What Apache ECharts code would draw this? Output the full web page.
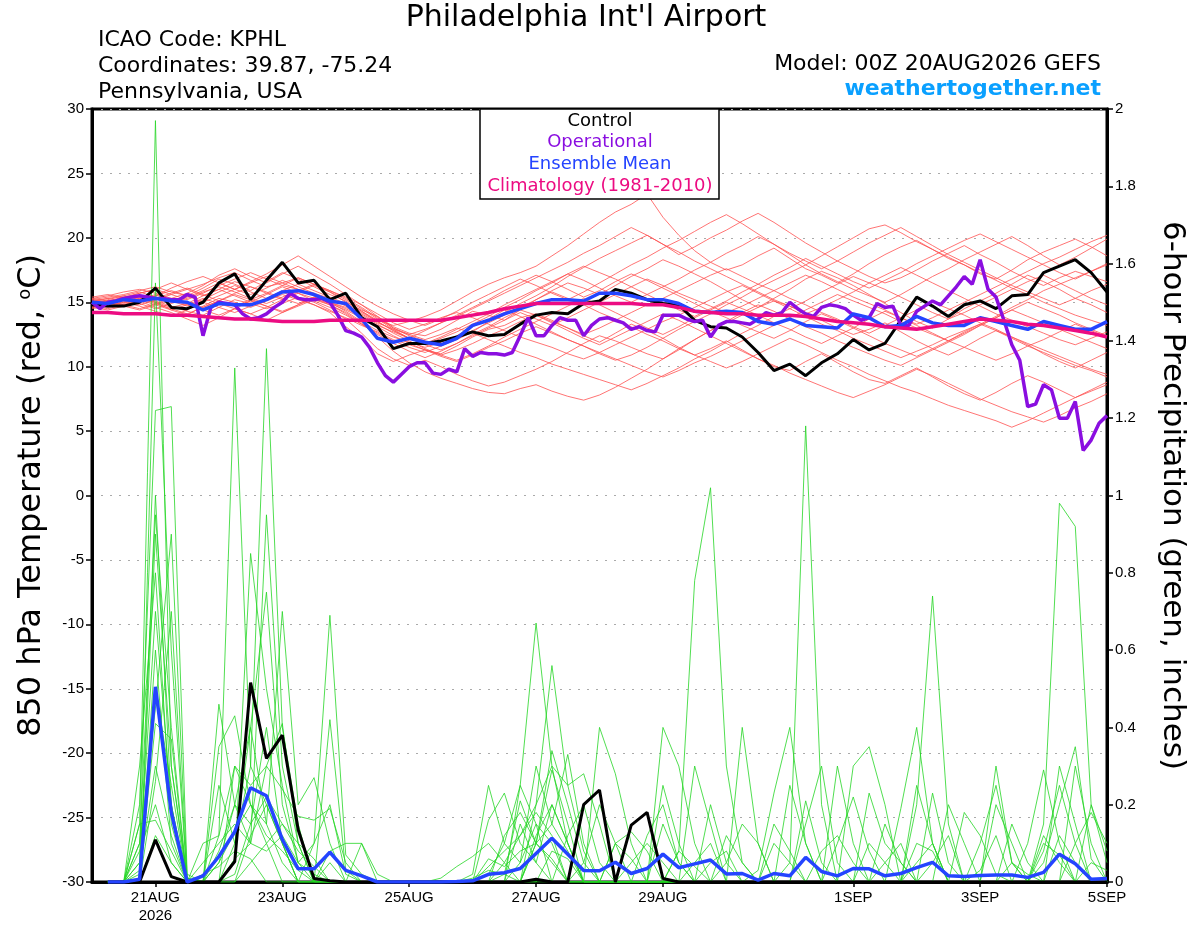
<!DOCTYPE html>
<html><head><meta charset="utf-8">
<script src="https://cdn.jsdelivr.net/npm/echarts@6/dist/echarts.min.js"></script>
<style>html,body{margin:0;padding:0;background:#fff}#c{width:1200px;height:927px}</style>
</head><body><div id="c"></div>
<script>
const FONT = '"Liberation Sans", Arial, Helvetica, sans-serif';
const WFONT = '"DejaVu Sans", "Liberation Sans", sans-serif';
const tickHours = [24, 72, 120, 168, 216, 288, 336, 384];
const tickLabels = ['21AUG\n2026', '23AUG', '25AUG', '27AUG', '29AUG', '1SEP', '3SEP', '5SEP'];
const stepHours = 6, opStepHours = 3;

const controlTemp = [14.8,14.7,14.7,15.0,16.1, 14.6,14.5,15.0,16.5,17.2, 15.2,16.7,18.1,16.5,16.7, 15.2,15.7,13.8,13.1,11.4,
 11.8,11.8,12.0,12.3,12.7, 12.4,12.5,13.3,14.0,14.2, 14.1,14.9,15.1,16.0,15.7, 15.2,14.9,14.8,13.6,13.1,
 13.0,12.3,11.1,9.7,10.2, 9.3,10.3,11.0,12.1,11.3, 11.8,13.6,15.4,14.7,13.9, 14.8,15.1,14.5,15.5,15.6, 17.3,17.8,18.3,17.3,15.8];
const operationalTemp = [
 15.0,14.5,15.0,15.1,15.3,15.4,15.5,15.4, 15.3,15.3,15.2,15.2,15.6,15.4,12.4,14.6,
 15.0,14.9,14.8,14.1,13.7,13.8,14.1,14.6, 15.0,15.7,15.3,15.2,15.2,15.3,15.0,14.0,
 12.8,12.6,12.3,11.5,10.3,9.3,8.8,9.4, 10.0,10.3,10.3,9.5,9.4,9.8,9.6,11.4,
 10.8,11.1,11.0,11.0,10.9,11.1,12.4,13.8, 12.4,12.4,13.2,13.8,13.6,13.6,12.4,13.2,
 13.7,13.8,13.6,13.4,12.9,13.1,12.8,12.7, 14.0,14.0,14.0,13.7,13.5,13.6,12.3,13.2,
 13.5,13.5,13.4,13.3,13.7,14.2,14.0,14.2, 15.0,14.5,14.1,13.9,14.6,14.8,14.7,14.5,
 14.0,13.6,13.8,14.9,14.6,14.7,13.2,13.2, 14.3,14.7,15.1,14.8,15.5,16.2,17.0,16.4,
 18.3,16.0,15.4,13.6,11.7,10.5,6.9,7.1, 8.6,8.2,6.0,6.0,7.3,3.5,4.3,5.6, 6.2];
const meanTemp = [15.0,14.9,15.2,15.1,15.3, 15.1,15.0,14.4,14.9,14.8, 14.8,15.2,15.8,15.9,15.6, 15.1,14.9,13.7,12.2,11.9,
 12.2,11.9,11.7,12.2,13.2, 13.6,14.1,14.5,14.9,15.2, 15.2,15.1,15.7,15.7,15.5, 15.2,15.2,14.9,14.3,14.2,
 14.3,14.2,13.5,13.3,13.7, 13.2,13.1,13.0,14.1,13.8, 13.1,13.2,13.9,13.4,13.2, 13.2,13.8,13.5,13.2,12.9, 13.5,13.2,12.9,12.9,13.5];
const climoTemp = [14.2,14.2,14.1,14.1,14.1, 14.0,14.0,13.9,13.8,13.7, 13.7,13.6,13.5,13.5,13.5, 13.6,13.6,13.6,13.6,13.6,
 13.6,13.6,13.6,13.8,14.0, 14.2,14.5,14.7,14.9,14.9, 14.9,14.9,14.9,14.9,14.9, 14.8,14.8,14.6,14.3,14.2,
 14.1,14.1,14.0,14.0,14.0, 13.9,13.7,13.5,13.4,13.3, 13.1,13.0,12.9,13.1,13.3, 13.5,13.7,13.6,13.5,13.3, 13.2,13.0,12.8,12.6,12.3];
const controlPrecip = [null,0,0,0,0.109, 0.014,0,0,0,0.053, 0.516,0.32,0.38,0.135,0.009, 0.003,0,0,0,0,
 0,0,0,0,0, 0,0,0,0.007,0, 0,0.2,0.238,0,0.147, 0.18,0.009,0,0,0,
 0,0,0,0,0, 0,0,0,0,0, 0,0,0,0,0, 0,0,0,0,0, 0,0,0,0,0];
const meanPrecip = [null,0,0,0.007,0.505, 0.18,0,0.016,0.066,0.13, 0.244,0.223,0.11,0.034,0.034, 0.077,0.03,0.016,0,0,
 0,0,0,0.001,0.003, 0.02,0.024,0.035,0.074,0.113, 0.072,0.03,0.029,0.051,0.022, 0.035,0.072,0.037,0.047,0.057,
 0.021,0.022,0.005,0.022,0.016, 0.064,0.027,0.016,0.035,0.034, 0.016,0.022,0.037,0.051,0.016, 0.014,0.017,0.018,0.018,0.012, 0.025,0.072,0.047,0.007,0.009];

// ensemble members, 850 hPa temperature
const tA = [15.2,15.4,15.6,15.9,16.2, 15.8,15.5,16.1,16.8,16.4, 15.9,16.6,17.3,16.8,16.2, 15.6,15.1,14.3,13.6,13.2, 13.5,13.9,14.4,15.1,15.8, 16.4,16.9,17.3,17.8,18.6, 19.4,20.3,21.2,22.0,22.6, 23.4,21.6,20.2,19.0,18.1, 17.5,17.9,18.6,19.2,18.4, 17.6,17.1,16.5,17.2,18.0, 18.7,19.3,19.8,19.1,18.4, 17.9,17.2,16.8,17.5,18.3, 18.9,19.4,19.9,19.3,18.6];
const tB = [14.8,14.6,14.9,15.3,15.0, 14.4,14.0,14.7,15.3,15.0, 14.6,15.1,15.6,15.2,14.8, 14.2,13.1,12.2,11.0,10.4, 10.9,11.3,11.0,11.6,12.3, 12.9,13.2,13.8,14.1,13.6, 13.0,12.4,11.9,12.6,13.3, 12.8,12.2,11.5,10.9,11.4, 12.0,11.3,10.6,10.0,9.7, 10.4,11.0,10.3,9.6,9.0, 8.7,9.3,9.9,9.2,8.5, 7.9,7.4,8.0,8.7,9.3, 8.8,8.2,7.6,8.1,8.6];
const tC = [15.0,15.3,15.1,14.8,15.2, 15.6,16.0,16.4,16.9,17.3, 16.7,16.2,16.5,16.9,16.4, 15.8,15.0,14.4,13.9,13.1, 12.6,12.4,12.9,13.6,14.3, 14.0,13.6,14.4,15.2,15.9, 16.5,16.1,15.6,16.3,17.0, 17.6,18.3,17.8,17.2,16.6, 15.9,15.2,14.6,15.3,16.0, 16.8,17.4,16.9,16.3,15.6, 14.9,14.2,13.5,13.0,13.7, 14.5,15.1,15.7,16.4,17.1, 16.6,16.0,15.3,14.8,14.2];
const tD = [14.6,14.9,15.2,15.5,15.1, 14.7,14.3,14.0,14.6,15.2, 14.9,14.5,14.9,15.4,15.0, 14.4,13.7,12.6,11.4,10.6, 10.1,10.5,10.0,9.4,8.9, 8.5,8.8,9.3,9.8,10.4, 11.1,11.8,12.4,12.0,11.5, 11.0,10.6,11.3,12.1,12.8, 13.4,14.0,14.6,15.1,14.7, 14.2,13.6,13.0,12.5,12.9, 13.4,12.7,12.0,11.4,10.9, 11.5,12.2,12.8,12.3,11.7, 11.0,10.4,9.9,10.5,11.1];
const tE = [15.3,15.5,15.8,16.0,15.7, 15.3,15.7,16.3,17.1,17.6, 17.0,16.5,17.2,17.8,17.1, 16.4,15.6,14.8,13.9,13.0, 12.4,12.0,11.6,12.1,12.7, 13.5,14.2,14.9,15.5,16.2, 17.0,17.7,18.4,19.0,19.6, 20.2,19.5,18.7,19.3,20.0, 20.6,21.3,21.9,21.2,20.4, 19.6,18.9,18.2,17.6,17.0, 16.5,16.9,17.5,18.2,18.8, 19.4,18.7,18.1,17.4,16.8, 16.3,16.9,17.4,17.0,16.6];
const tF = [14.9,15.1,14.8,14.5,14.9, 15.3,15.0,14.6,15.1,15.7, 16.2,15.8,15.3,14.9,15.4, 15.0,14.3,13.5,12.8,12.3, 11.9,11.5,11.9,12.4,13.1, 13.7,14.4,13.9,13.3,12.7, 12.1,11.6,11.0,10.5,10.9, 11.5,12.2,12.9,13.5,14.1, 14.8,15.4,16.1,16.7,17.3, 17.9,18.6,19.3,20.0,20.7, 21.0,20.4,19.7,19.1,18.5, 17.9,17.3,16.7,16.1,15.6, 15.0,14.5,14.0,13.6,13.2];
const tG = [14.7,14.5,14.8,15.1,14.6, 14.2,13.7,13.2,13.8,14.5, 14.1,13.6,14.2,14.8,15.3, 14.9,14.4,13.8,13.2,12.7, 12.2,12.8,13.4,14.0,14.6, 15.2,15.9,16.5,17.1,16.6, 16.0,15.4,15.9,16.6,17.2, 16.7,16.1,15.5,14.9,14.3, 13.8,13.2,12.7,12.2,12.8, 13.5,14.1,13.6,13.0,12.4, 11.8,11.3,10.8,11.4,12.0, 12.7,13.3,13.9,14.6,15.2, 15.9,16.4,16.9,17.4,17.9];
const tH = [15.1,14.9,15.2,15.4,15.0, 14.6,14.9,15.5,16.0,15.5, 15.0,15.6,16.2,15.7,15.1, 14.6,14.0,13.3,12.5,11.8, 11.2,10.7,11.2,11.8,12.5, 13.1,13.8,14.4,14.0,13.4, 12.8,12.2,11.7,12.3,12.9, 13.5,14.1,13.6,13.0,12.4, 11.8,11.2,10.6,10.1,9.5, 9.0,8.5,8.0,7.6,8.1, 8.6,9.2,9.8,9.3,8.7, 8.1,7.5,7.0,6.5,6.1, 5.7,6.2,6.8,7.3,7.9];
const tI = [14.9,15.2,15.5,15.8,15.4, 15.0,15.4,15.9,16.5,16.0, 15.6,16.1,16.7,16.2,15.7, 15.3,14.7,14.1,13.4,12.9, 12.5,12.1,12.5,13.0,12.6, 12.1,11.6,11.1,10.7,10.2, 9.8,9.4,9.0,8.6,8.2, 8.7,9.3,9.9,10.6,11.2, 11.9,12.6,13.2,13.9,14.5, 15.1,15.8,16.4,17.0,16.5, 16.0,15.4,14.8,14.2,13.7, 14.2,14.8,15.4,16.0,16.6, 17.1,16.5,15.9,15.3,14.8];
const tJ = [15.4,15.6,15.3,15.0,15.5, 16.1,16.6,17.0,16.5,16.0, 16.6,17.2,17.9,18.6,17.8, 17.0,16.2,15.4,14.7,14.1, 13.6,13.2,13.7,14.3,15.0, 15.6,16.2,16.8,16.3,15.7, 15.2,15.8,16.5,17.2,17.9, 18.5,19.2,19.8,20.5,21.2, 21.8,21.1,20.3,19.5,18.7, 17.9,17.2,16.6,16.0,15.5, 15.0,15.6,16.3,17.0,17.6, 18.3,18.9,19.5,20.1,19.4, 18.6,17.9,18.5,19.2,19.9];
const tK = [14.5,14.8,15.0,14.7,14.3, 13.9,14.4,15.0,14.6,14.2, 14.7,15.3,15.8,15.3,14.8, 14.3,13.8,13.2,12.7,12.1, 11.7,11.3,10.9,10.5,11.0, 11.6,12.3,12.9,13.5,14.1, 14.7,15.3,14.8,14.2,13.6, 13.0,12.5,13.1,13.8,14.4, 15.0,14.5,14.0,13.4,12.9, 12.3,11.8,12.4,13.0,13.7, 14.3,13.8,13.2,12.6,12.0, 11.5,11.0,10.5,11.0,11.6, 12.1,12.7,13.3,12.8,12.3];
const tL = [15.0,14.7,15.0,15.2,15.6, 15.1,14.7,15.2,15.8,16.3, 15.8,15.3,15.9,16.4,15.9, 15.4,14.9,14.3,13.5,12.8, 12.2,11.7,12.2,12.7,13.3, 13.9,14.6,15.2,15.9,16.5, 17.2,17.8,17.3,16.8,16.2, 15.6,15.0,14.4,13.9,14.5, 15.1,15.8,16.4,17.1,17.7, 18.4,17.8,17.2,16.6,16.1, 16.7,17.3,18.0,18.6,19.2, 19.8,20.3,19.7,19.1,18.5, 17.9,17.3,16.8,17.4,18.0];
const tM = [14.8,15.0,14.7,14.4,14.8, 15.2,14.8,14.4,14.0,14.5, 15.1,14.7,14.2,14.7,15.2, 14.8,14.2,13.4,12.3,11.2, 10.3,9.6,9.1,8.7,8.3, 8.0,7.9,8.3,8.6,8.1, 7.7,7.4,7.8,8.4,9.1, 9.8,10.6,11.4,12.1,12.8, 13.5,14.2,14.8,14.3,13.7, 13.1,12.6,12.0,11.5,11.0, 10.5,10.1,10.7,11.3,11.9, 12.5,13.2,13.8,14.4,15.0, 14.5,14.0,13.4,12.9,12.4];
const tN = [15.2,15.0,15.3,15.7,16.0, 15.6,15.2,15.7,16.3,16.8, 17.3,16.8,16.3,16.9,16.4, 15.9,15.3,14.6,13.8,13.0, 12.5,12.9,13.4,13.9,14.5, 15.1,15.7,16.3,16.9,17.5, 18.1,18.8,19.4,20.1,20.8, 20.2,19.5,18.9,18.2,17.6, 17.0,16.4,15.8,15.2,14.7, 14.1,14.6,15.2,15.8,16.5, 17.1,17.7,17.1,16.5,15.9, 15.3,14.7,14.1,13.6,13.1, 12.6,12.1,11.7,12.2,12.7];
const tO = [14.6,14.4,14.7,15.0,15.3, 15.7,16.1,15.6,15.1,14.7, 15.2,15.7,16.3,16.0,15.5, 15.0,14.6,14.0,13.3,12.6, 12.0,11.4,10.9,11.3,11.8, 12.4,12.9,13.5,14.0,13.5, 13.0,12.5,13.0,13.6,14.2, 14.8,15.3,15.9,16.5,17.1, 17.6,17.0,16.4,15.9,15.3, 14.8,14.2,13.7,13.1,12.6, 13.2,13.8,14.4,15.0,14.5, 14.0,13.4,12.9,12.3,11.8, 11.3,10.8,10.3,9.8,9.4];
const tP = [15.1,15.3,15.5,15.2,14.8, 14.4,14.8,15.3,14.9,14.5, 14.1,14.6,15.2,15.7,15.3, 14.8,14.1,13.3,12.6,12.0, 11.5,11.1,11.6,12.2,12.8, 13.4,14.0,14.6,15.2,15.8, 15.3,14.8,14.2,13.7,13.1, 12.5,12.0,11.4,10.9,10.4, 9.9,10.4,11.0,11.6,12.2, 11.7,11.1,10.5,10.0,9.4, 8.9,8.4,8.0,7.5,7.0, 6.6,6.2,5.8,5.3,5.8, 6.4,7.0,7.6,8.2,8.8];
const tQ = [14.9,15.1,15.4,15.7,16.0, 16.5,16.0,15.5,16.0,16.6, 16.2,15.7,15.2,15.8,16.3, 15.8,15.2,14.5,13.7,12.9, 12.2,11.8,12.3,12.9,13.5, 14.1,14.8,15.4,16.0,16.6, 17.2,16.7,16.1,15.5,15.0, 15.6,16.2,16.8,17.5,18.1, 18.8,19.4,20.1,19.5,18.8, 18.2,17.6,18.2,18.9,19.6, 20.2,20.8,20.1,19.4,18.7, 18.1,17.5,16.9,16.3,15.8, 15.3,14.8,15.3,15.9,16.4];
const tR = [15.0,14.8,15.1,15.3,14.9, 14.5,14.1,14.6,15.1,15.6, 15.2,14.7,14.3,14.8,15.4, 15.0,14.5,13.9,13.1,12.4, 11.8,11.3,10.8,10.4,10.9, 11.5,12.0,12.6,13.1,12.6, 12.1,11.6,11.1,10.6,10.1, 9.6,9.2,9.7,10.3,10.8, 11.4,12.0,12.6,13.2,13.8, 14.4,15.0,15.6,15.1,14.6, 14.1,13.5,13.0,12.5,12.0, 12.6,13.2,13.8,14.4,13.9, 13.4,12.9,12.4,11.9,11.4];
const tS = [15.3,15.1,14.8,15.1,15.5, 15.9,15.5,15.0,15.5,16.0, 16.5,17.0,16.5,16.0,15.6, 15.2,14.8,14.2,13.5,12.8, 12.2,11.7,11.3,11.8,12.4, 13.0,13.6,14.2,13.7,13.2, 13.8,14.4,15.0,15.6,16.2, 16.8,16.3,15.7,15.2,14.7, 14.2,14.7,15.3,15.9,16.5, 17.1,16.6,16.0,15.4,14.9, 14.4,13.8,13.3,13.8,14.4, 15.0,15.6,16.2,16.8,17.4, 18.0,18.5,19.1,19.7,20.2];
const tT = [14.7,14.9,15.2,14.9,14.5, 14.9,15.3,15.8,16.2,15.8, 15.3,14.9,15.4,15.9,16.4, 15.9,15.4,14.8,14.1,13.4, 12.9,13.3,13.8,14.2,13.8, 13.3,12.8,12.3,11.9,11.5, 11.0,10.6,11.1,11.7,12.3, 12.9,13.5,14.0,14.6,15.2, 15.8,16.3,15.7,15.1,14.5, 13.9,13.3,12.8,12.2,11.7, 11.2,10.7,11.2,11.7,12.3, 12.8,13.3,12.8,12.2,11.6, 11.1,10.6,10.1,9.7,9.2];

// ensemble members, 6-hour precipitation
const p01 = [null,0,0,0.15,1.97, 0.3,0.01,0,0.05,0.2, 0.4,0.15,0.05,0,0, 0,0,0,0,0, 0,0,0,0,0, 0.02,0.1,0.25,0.67,0.3, 0.1,0,0,0,0, 0,0,0,0.05,0.1, 0,0,0,0,0.05, 1.18,0.2,0,0,0, 0,0,0.05,0.1,0, 0,0,0,0,0, 0.08,0.25,0.1,0,0];
const p02 = [null,0,0,0.05,1.55, 0.6,0,0,0,0.1, 0.3,1.38,0.4,0.15,0, 0,0,0,0,0, 0,0,0,0,0, 0,0.05,0.12,0.2,0.56, 0.25,0.08,0,0,0, 0,0.15,0.05,0,0, 0,0,0,0,0, 0,0,0.1,0.22,0.08, 0,0,0,0,0, 0,0.03,0.12,0,0, 0,0,0,0.05,0.03];
const p03 = [null,0,0,0.2,1.22, 1.23,0.02,0,0.12,1.33, 0.3,0.2,0.1,0,0, 0.05,0,0,0,0, 0,0,0,0,0.02, 0.25,0.1,0.05,0.15,0.1, 0,0,0,0,0, 0,0,0.08,0.78,1.02, 0.3,0.05,0,0,0, 0,0,0,0,0, 0.05,0.1,0,0,0, 0,0,0,0,0, 0.15,0.98,0.92,0.2,0.05];
const p04 = [null,0,0,0.1,0.95, 0.4,0,0,0,0.05, 0.85,0.5,0.25,0.05,0.1, 0.69,0.07,0.02,0,0, 0,0,0,0,0, 0,0,0.05,0.3,0.15, 0.33,0.1,0,0,0, 0,0,0,0,0, 0,0,0.03,0.23,0.4, 0.1,0,0,0,0, 0,0,0.2,0.74,0.15, 0,0,0,0.05,0.02, 0,0,0,0,0];
const p05 = [null,0,0,0.3,0.8, 0.15,0,0,0.46,0.2, 0.1,0.95,0.3,0.1,0, 0,0,0,0,0, 0,0,0,0,0, 0.16,0.23,0.1,0.05,0, 0,0,0.4,0.28,0.1, 0,0,0,0,0, 0,0.4,0.1,0,0, 0,0,0,0,0.23, 0.1,0.05,0,0,0, 0,0,0.2,0.1,0, 0,0,0,0,0];
const p06 = [null,0,0,0.05,0.7, 0.2,0,0,0.35,0.43, 0.2,0.15,0.7,0.2,0.27, 0.1,0,0,0,0, 0,0,0,0,0, 0,0.02,0.21,0.1,0.34, 0.2,0.05,0,0,0, 0,0.4,0.3,0.1,0, 0,0,0,0,0, 0.21,0.05,0,0,0, 0,0,0,0,0.2, 0.1,0,0,0,0, 0,0.3,0.15,0,0];
const p07 = [null,0,0,0.1,0.45, 0.9,0.01,0,0.25,0.1, 0.4,0.75,0.2,0.05,0, 0.42,0.03,0,0,0, 0,0,0.01,0.04,0.066, 0.1,0.05,0,0.1,0.29, 0.15,0,0,0.1,0.13, 0.08,0,0,0,0, 0.12,0.05,0,0,0, 0,0,0,0.3,0.35, 0.2,0,0,0,0, 0,0,0,0,0.1, 0.29,0.1,0,0,0];
const p08 = [null,0,0,0.02,0.41, 0.37,0,0.1,0.12,0.3, 0.25,0.3,0.24,0.17,0.16, 0.19,0.05,0,0,0, 0,0,0,0,0, 0,0,0,0.2,0.3, 0.25,0.28,0.15,0,0, 0,0,0,0,0.05, 0.08,0,0,0,0, 0,0.08,0.12,0.05,0, 0,0,0,0.23,0.05, 0,0,0,0,0, 0,0,0.3,0.1,0];
const p09 = [null,0,0,0,0.26, 0.7,0,0.05,0.1,0.15, 0.1,0.3,0.41,0.1,0, 0,0,0.1,0,0, 0,0,0,0,0, 0,0,0.15,0.05,0.2, 0.1,0,0,0,0, 0.12,0.2,0.05,0,0, 0,0,0,0,0.25, 0.1,0,0,0,0, 0,0,0,0,0, 0.18,0.12,0.02,0,0, 0.05,0.2,0.35,0.06,0];
const p10 = [null,0,0,0.15,0.16, 0.08,0,0,0.05,0.13, 0.2,0.12,0.08,0.03,0, 0,0,0,0,0, 0,0,0,0,0, 0.04,0.08,0.12,0.18,0.12, 0,0,0,0,0, 0,0,0,0.3,0.15, 0,0,0,0.1,0.05, 0,0,0,0,0, 0,0.19,0.4,0.1,0, 0,0,0,0.15,0.05, 0,0,0,0,0];
const p11 = [null,0,0,0,0.6, 0.1,0,0,0,0.02, 0.15,0.22,0.15,0.08,0.04, 0,0,0,0,0, 0,0,0,0,0, 0,0.12,0.18,0.1,0.05, 0,0.05,0.2,0.1,0, 0,0,0,0,0, 0.05,0.15,0.1,0,0, 0,0,0.3,0.1,0, 0,0,0,0.05,0.12, 0,0,0,0,0, 0,0,0,0.2,0.08];
const p12 = [null,0,0,0,0.12, 0.05,0,0,0,0.06, 0.1,0.08,0.12,0.05,0.02, 0,0,0,0,0, 0,0,0,0,0, 0,0,0,0.1,0.15, 0.08,0,0,0,0, 0,0.25,0.1,0,0, 0,0,0,0,0, 0.15,0.3,0.05,0,0, 0,0,0,0,0, 0,0.1,0.25,0.05,0, 0,0,0,0,0];
const p13 = [null,0,0,0.03,0.3, 0.12,0,0,0.08,0.2, 0.15,0.4,0.1,0,0, 0,0,0,0,0, 0,0,0,0,0, 0.06,0.04,0.08,0.1,0.06, 0,0,0,0,0.05, 0.1,0.05,0,0,0, 0,0,0,0,0, 0,0,0,0,0.1, 0.05,0,0,0,0, 0,0,0,0,0, 0.1,0.07,0,0,0];
const p14 = [null,0,0,0,0.5, 0.25,0,0,0,0, 0.05,0.1,0.15,0.1,0.06, 0,0,0,0,0, 0,0,0,0,0.01, 0.03,0.02,0,0,0, 0.12,0.2,0.05,0,0, 0,0,0,0,0, 0,0,0,0.15,0.08, 0,0,0,0,0, 0,0,0.1,0.08,0, 0,0,0,0,0, 0,0.12,0.05,0,0];
const p15 = [null,0,0,0.08,0.2, 0.05,0,0.02,0.04,0.08, 0.06,0,0,0,0, 0.08,0.1,0.1,0.02,0, 0,0,0,0,0, 0,0,0,0,0.08, 0.06,0,0,0,0, 0,0,0.08,0.04,0, 0,0,0,0,0, 0,0,0,0,0, 0.15,0.05,0,0,0, 0,0,0,0,0, 0,0,0.1,0.18,0.1];
const p16 = [null,0,0,0,1.0, 0.2,0,0,0,0, 0.12,0.2,0.1,0,0, 0,0,0,0,0, 0,0,0,0,0, 0,0,0,0.12,0.2, 0.1,0,0,0,0, 0,0,0,0,0.2, 0.05,0,0,0,0, 0,0,0,0,0, 0,0,0,0,0, 0,0,0.3,0.05,0, 0,0,0,0,0];
const p17 = [null,0,0,0,0.9, 0.3,0,0,0,0.3, 0.2,0.1,0,0,0.1, 0.2,0.02,0,0,0, 0,0,0,0,0, 0,0,0.25,0.15,0, 0,0,0,0.1,0.06, 0,0,0,0,0, 0,0,0,0,0, 0,0,0,0,0, 0,0,0.25,0.1,0, 0,0,0,0,0, 0.12,0.05,0,0,0];

const tempMembers = [tA,tB,tC,tD,tE,tF,tG,tH,tI,tJ,tK,tL,tM,tN,tO,tP,tQ,tR,tS,tT];
const precipMembers = [p01,p02,p03,p04,p05,p06,p07,p08,p09,p10,p11,p12,p13,p14,p15,p16,p17];

const C_OPER = '#8a0ee0', C_MEAN = '#2444ff', C_CLIMO = '#ec0c82', C_RED = '#ff5050', C_GREEN = '#25d625';

function toXY(arr, step) { return arr.map((v, i) => [i * step, v == null ? '-' : v]); }
function line(name, data, yIdx, color, width, z) {
  return { name, type: 'line', data, yAxisIndex: yIdx, symbol: 'none', showSymbol: false, silent: true,
    lineStyle: { color, width }, z: z, animation: false };
}

const series = [];
tempMembers.forEach((m, k) => series.push(line('t' + k, toXY(m, stepHours), 0, C_RED, 0.8, 2)));
precipMembers.forEach((m, k) => series.push(line('p' + k, toXY(m, stepHours), 1, C_GREEN, 0.8, 2)));
series.push(line('Control precip', toXY(controlPrecip, stepHours), 1, '#000', 3, 3));
series.push(line('Mean precip', toXY(meanPrecip, stepHours), 1, C_MEAN, 3.5, 3));
series.push(line('Control', toXY(controlTemp, stepHours), 0, '#000', 3, 3));
series.push(line('Operational', toXY(operationalTemp, opStepHours), 0, C_OPER, 3.5, 3));
series.push(line('Ensemble Mean', toXY(meanTemp, stepHours), 0, C_MEAN, 3.5, 3));
series.push(line('Climatology', toXY(climoTemp, stepHours), 0, C_CLIMO, 3.5, 3));

const chart = echarts.init(document.getElementById('c'), null, { renderer: 'canvas' });
const txt = (x, y, text, size, color, align, weight) => ({
  type: 'text', x, y, z: 100, style: { text, fontSize: size, fontFamily: WFONT, fill: color || '#000',
    align: align || 'left', verticalAlign: 'middle', fontWeight: weight || 'normal' }
});
chart.setOption({
  animation: false,
  backgroundColor: '#fff',
  grid: { left: 92, right: 93, top: 109, bottom: 45, show: true, borderColor: '#000', borderWidth: 3, containLabel: false },
  xAxis: {
    type: 'value', min: 0, max: 384,
    axisLine: { show: true, onZero: false, lineStyle: { color: '#000', width: 3 } },
    axisTick: { show: true, customValues: tickHours, length: 5, lineStyle: { color: '#000', width: 1.5 } },
    axisLabel: { customValues: tickHours, formatter: v => tickLabels[tickHours.indexOf(v)] || '',
      fontSize: 15, color: '#000', fontFamily: FONT, lineHeight: 18, margin: 7 },
    splitLine: { show: false }
  },
  yAxis: [{
    type: 'value', min: -30, max: 30, interval: 5, position: 'left',
    name: '850 hPa Temperature (red, {s|o}C)', nameLocation: 'middle', nameGap: 44, nameRotate: 90,
    nameTextStyle: { fontSize: 32, fontFamily: WFONT, color: '#000',
      rich: { s: { fontSize: 18, fontFamily: WFONT, color: '#000', verticalAlign: 'top', padding: [0, 0, 12, 0] } } },
    axisLine: { show: true, onZero: false, lineStyle: { color: '#000', width: 3 } },
    axisTick: { show: true, length: 6, lineStyle: { color: '#000', width: 1.5 } },
    axisLabel: { fontSize: 15, color: '#000', fontFamily: FONT, margin: 8 },
    splitLine: { show: true, lineStyle: { color: '#aaa', width: 1.2, type: [2, 7] } }
  }, {
    type: 'value', min: 0, max: 2, interval: 0.2, position: 'right',
    name: '6-hour Precipitation (green, inches)', nameLocation: 'middle', nameGap: 50, nameRotate: -90,
    nameTextStyle: { fontSize: 31, fontFamily: WFONT, color: '#000' },
    axisLine: { show: true, onZero: false, lineStyle: { color: '#000', width: 3 } },
    axisTick: { show: true, length: 6, lineStyle: { color: '#000', width: 1.5 } },
    axisLabel: { fontSize: 15, color: '#000', fontFamily: FONT, margin: 8, formatter: v => String(Math.round(v * 10) / 10) },
    splitLine: { show: false }
  }],
  series,
  graphic: [
    txt(586, 18, "Philadelphia Int'l Airport", 30, '#000', 'center'),
    txt(98, 40, 'ICAO Code: KPHL', 22),
    txt(98, 66, 'Coordinates: 39.87, -75.24', 22),
    txt(98, 92, 'Pennsylvania, USA', 22),
    txt(1101, 64, 'Model: 00Z 20AUG2026 GEFS', 22, '#000', 'right'),
    txt(1101, 89, 'weathertogether.net', 22, '#0aa0ff', 'right', 'bold'),
    { type: 'rect', z: 99, shape: { x: 480, y: 109, width: 239, height: 90 },
      style: { fill: '#fff', stroke: '#000', lineWidth: 1.5 } },
    txt(600, 121, 'Control', 18, '#000', 'center'),
    txt(600, 142, 'Operational', 18, C_OPER, 'center'),
    txt(600, 164, 'Ensemble Mean', 18, C_MEAN, 'center'),
    txt(600, 186, 'Climatology (1981-2010)', 18, C_CLIMO, 'center')
  ]
});
</script></body></html>
